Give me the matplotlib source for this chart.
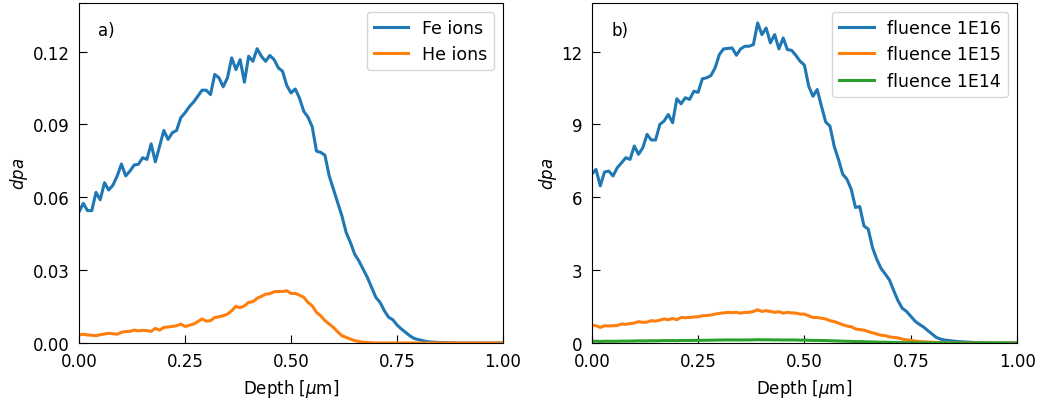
import numpy as np
import matplotlib
matplotlib.use("Agg")
import matplotlib.pyplot as plt

depth = [round(i * 0.01, 2) for i in range(101)]

fe_ions = [
    0.054, 0.0575, 0.0545, 0.0545, 0.062, 0.059, 0.066, 0.063, 0.065, 0.0688,
    0.0737, 0.0688, 0.0708, 0.0733, 0.0736, 0.0763, 0.0756, 0.082, 0.0746, 0.081,
    0.0875, 0.0838, 0.0866, 0.0875, 0.0928, 0.0948, 0.0973, 0.0992, 0.1016, 0.1041,
    0.1041, 0.1023, 0.1106, 0.1092, 0.1055, 0.1092, 0.1174, 0.1126, 0.1167, 0.1074,
    0.1181, 0.116, 0.1212, 0.1181, 0.116, 0.1184, 0.1167, 0.1133, 0.1119, 0.106,
    0.103, 0.1046, 0.1008, 0.0954, 0.093, 0.089, 0.079, 0.0785, 0.0773, 0.0688,
    0.0633, 0.0578, 0.0523, 0.0455, 0.0414, 0.0366, 0.0338, 0.0304, 0.027, 0.0229,
    0.0188, 0.0167, 0.0133, 0.0106, 0.0096, 0.0074, 0.0058, 0.0044, 0.003, 0.0019,
    0.0014, 0.001, 0.0006, 0.0004, 0.0003, 0.0002, 0.0002, 0.0001, 0.0001, 0.0,
    0.0, 0.0, 0.0, 0.0, 0.0, 0.0, 0.0, 0.0, 0.0, 0.0, 0.0,
]

he_ions = [
    0.0033, 0.0036, 0.0033, 0.0032, 0.003, 0.0034, 0.0037, 0.004, 0.0038, 0.0036,
    0.0044, 0.0047, 0.0048, 0.0053, 0.005, 0.0052, 0.0051, 0.0048, 0.006, 0.0053,
    0.0064, 0.0066, 0.0068, 0.0071, 0.0078, 0.0068, 0.0073, 0.0078, 0.0088, 0.0099,
    0.009, 0.0092, 0.0105, 0.0108, 0.0112, 0.0119, 0.0133, 0.0151, 0.0145, 0.0153,
    0.0167, 0.017, 0.0184, 0.0192, 0.0201, 0.0203, 0.0211, 0.0212, 0.0212, 0.0215,
    0.0204, 0.0204, 0.0197, 0.0188, 0.0167, 0.0153, 0.0126, 0.0112, 0.0092, 0.0078,
    0.0064, 0.0046, 0.003, 0.0023, 0.0016, 0.001, 0.0006, 0.0003, 0.0002, 0.0001,
    0.0, 0.0, 0.0, 0.0, 0.0, 0.0, 0.0, 0.0, 0.0, 0.0,
    0.0, 0.0, 0.0, 0.0, 0.0, 0.0, 0.0, 0.0, 0.0, 0.0,
    0.0, 0.0, 0.0, 0.0, 0.0, 0.0, 0.0, 0.0, 0.0, 0.0, 0.0,
]

fluence_1e16 = [
    6.95, 7.15, 6.47, 7.04, 7.08, 6.88, 7.22, 7.42, 7.63, 7.56,
    8.11, 7.77, 8.04, 8.59, 8.36, 8.36, 9.0, 9.14, 9.41, 9.07,
    10.06, 9.85, 10.1, 10.03, 10.37, 10.32, 10.88, 10.92, 11.01, 11.33,
    11.88, 12.11, 12.13, 12.15, 11.85, 12.11, 12.22, 12.22, 12.29, 13.18,
    12.7, 12.97, 12.36, 12.7, 12.11, 12.56, 12.08, 12.05, 11.84, 11.6,
    11.44, 10.58, 10.16, 10.44, 9.75, 9.1, 8.93, 8.1, 7.56, 6.95,
    6.74, 6.33, 5.58, 5.62, 4.82, 4.69, 3.93, 3.45, 3.07, 2.84,
    2.59, 2.15, 1.74, 1.43, 1.3, 1.1, 0.9, 0.77, 0.66, 0.51,
    0.37, 0.23, 0.16, 0.12, 0.1, 0.08, 0.06, 0.05, 0.04, 0.03,
    0.02, 0.015, 0.01, 0.005, 0.0, 0.0, 0.0, 0.0, 0.0, 0.0, 0.0,
]

fluence_1e15 = [
    0.74, 0.71, 0.64, 0.71, 0.70, 0.71, 0.72, 0.78, 0.77, 0.80,
    0.82, 0.88, 0.85, 0.86, 0.92, 0.90, 0.94, 0.99, 0.96, 1.01,
    0.96, 1.05, 1.04, 1.05, 1.07, 1.08, 1.12, 1.13, 1.15, 1.19,
    1.22, 1.24, 1.26, 1.25, 1.26, 1.23, 1.26, 1.26, 1.30, 1.37,
    1.30, 1.33, 1.30, 1.26, 1.29, 1.23, 1.26, 1.24, 1.23, 1.19,
    1.19, 1.12, 1.05, 1.05, 1.02, 0.99, 0.92, 0.88, 0.82, 0.75,
    0.70, 0.67, 0.58, 0.55, 0.53, 0.47, 0.42, 0.37, 0.32, 0.30,
    0.25, 0.23, 0.21, 0.16, 0.13, 0.11, 0.08, 0.06, 0.05, 0.04,
    0.03, 0.02, 0.015, 0.01, 0.005, 0.0, 0.0, 0.0, 0.0, 0.0,
    0.0, 0.0, 0.0, 0.0, 0.0, 0.0, 0.0, 0.0, 0.0, 0.0, 0.0,
]

fluence_1e14 = [
    0.074, 0.071, 0.064, 0.071, 0.070, 0.071, 0.072, 0.078, 0.077, 0.080,
    0.082, 0.088, 0.085, 0.086, 0.092, 0.090, 0.094, 0.099, 0.096, 0.101,
    0.096, 0.105, 0.104, 0.105, 0.107, 0.108, 0.112, 0.113, 0.115, 0.119,
    0.122, 0.124, 0.126, 0.125, 0.126, 0.123, 0.126, 0.126, 0.130, 0.137,
    0.130, 0.133, 0.130, 0.126, 0.129, 0.123, 0.126, 0.124, 0.123, 0.119,
    0.119, 0.112, 0.105, 0.105, 0.102, 0.099, 0.092, 0.088, 0.082, 0.075,
    0.070, 0.067, 0.058, 0.055, 0.053, 0.047, 0.042, 0.037, 0.032, 0.030,
    0.025, 0.023, 0.021, 0.016, 0.013, 0.011, 0.008, 0.006, 0.005, 0.004,
    0.003, 0.002, 0.0015, 0.001, 0.0005, 0.0, 0.0, 0.0, 0.0, 0.0,
    0.0, 0.0, 0.0, 0.0, 0.0, 0.0, 0.0, 0.0, 0.0, 0.0, 0.0,
]

xticks = [0.0, 0.25, 0.5, 0.75, 1.0]
yticks_a = [0.0, 0.03, 0.06, 0.09, 0.12]
yticks_b = [0, 3, 6, 9, 12]

plt.rcParams['font.family'] = ['DejaVu Sans']
fig = plt.figure(figsize=(10.4, 4.02), dpi=100)
ax1 = fig.add_axes([0.076, 0.1443, 0.4077, 0.8457])
ax2 = fig.add_axes([0.569, 0.1443, 0.409, 0.8457])

lw = 2.2
ax1.plot(depth, fe_ions, color='#1f77b4', lw=lw, label='Fe ions')
ax1.plot(depth, he_ions, color='#ff7f0e', lw=lw, label='He ions')
ax1.set_ylim(0, 0.14)
ax1.set_yticks(yticks_a)
ax1.set_yticklabels([f"{v:.2f}" for v in yticks_a])
ax1.text(0.045, 0.92, 'a)', transform=ax1.transAxes, fontsize=12, va='center')

ax2.plot(depth, fluence_1e16, color='#1f77b4', lw=lw, label='fluence 1E16')
ax2.plot(depth, fluence_1e15, color='#ff7f0e', lw=lw, label='fluence 1E15')
ax2.plot(depth, fluence_1e14, color='#2ca02c', lw=lw, label='fluence 1E14')
ax2.set_ylim(0, 14)
ax2.set_yticks(yticks_b)
ax2.text(0.047, 0.92, 'b)', transform=ax2.transAxes, fontsize=12, va='center')

for ax in (ax1, ax2):
    ax.set_xlim(0, 1)
    ax.set_xticks(xticks)
    ax.set_xticklabels([f"{v:.2f}" for v in xticks])
    ax.tick_params(direction='in', labelsize=12, length=6, pad=6.5)
    ax.set_xlabel(r'Depth [$\mu$m]', fontsize=12, labelpad=5)
    ax.set_ylabel(r'$dpa$', fontsize=12, labelpad=2)
    ax.legend(loc='upper right', fontsize=12.5)

fig.savefig('out.png', dpi=100)
